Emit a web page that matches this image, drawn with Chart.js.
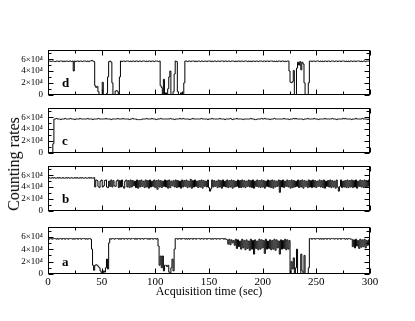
<!DOCTYPE html>
<html><head><meta charset="utf-8">
<script src="https://cdn.jsdelivr.net/npm/chart.js@4/dist/chart.umd.min.js"></script>
<style>
html,body{margin:0;padding:0;background:#fff;}
#wrap{position:relative;width:415px;height:321px;overflow:hidden;background:#fff;}
canvas{position:absolute;left:0;}
#ytitle{position:absolute;left:14px;top:164px;font-family:"Liberation Serif","DejaVu Serif",serif;font-size:16px;color:#000;white-space:nowrap;transform:translate(-50%,-50%) rotate(-90deg);}
</style></head><body>
<div id="wrap">
<canvas id="cd" style="top:40px" width="415" height="65"></canvas>
<canvas id="cc" style="top:98px" width="415" height="65"></canvas>
<canvas id="cb" style="top:156px" width="415" height="65"></canvas>
<canvas id="ca" style="top:217px" width="415" height="87"></canvas>
<div id="ytitle">Counting rates</div>
</div>
<script>
// ---- axis ticks / labels ----
const xMajorTicks = [0, 50, 100, 150, 200, 250, 300];
const xMinorTicks = [25, 75, 125, 175, 225, 275];
const yMajorTicks = [0, 20, 40, 60];          // thousands of counts
const yMinorTicks = [10, 30, 50, 70];
const yTickLabels = ['0', '2×10⁴', '4×10⁴', '6×10⁴'];
const xTitle = 'Acquisition time (sec)';
const panelLetters = ['d', 'c', 'b', 'a'];

// ---- series (counting rate, thousands of counts, one sample per second, t = 0..300) ----
const seriesD = [
56,57,57,56,57,57,56,56,57,57,56,57,57,57,56,57,56,57,57,56,57,57,56,57,
40,
57,56,57,57,56,57,57,56,57,57,57,56,57,56,57,57,58,57,56,
15,12,14,5,0,0,0,21,0,0,0,2,30,56,57,55,20,0,0,6,7,5,0,30,
57,56,57,57,56,57,57,57,56,57,56,57,57,56,57,57,56,57,57,56,57,57,57,56,57,56,57,57,56,57,57,56,57,57,57,56,57,
15,12,0,26,0,3,0,10,30,40,0,0,5,35,57,56,5,0,0,3,0,0,20,57,
57,56,57,57,56,57,57,57,56,57,56,57,
57,56,57,57,56,57,57,56,57,57,57,56,
57,56,57,57,56,57,57,56,57,57,57,56,
57,57,56,57,57,56,57,57,57,56,57,56,
57,57,56,57,57,56,57,57,57,56,57,56,
57,56,57,57,56,57,57,56,57,57,57,56,
57,57,56,57,57,56,57,57,57,56,57,56,
57,56,57,57,56,57,57,56,57,56,57,57,
40,21,20,22,41,0,0,45,55,50,56,42,55,52,20,0,0,0,20,
57,57,56,57,57,56,57,57,57,56,57,56,
57,56,57,57,56,57,57,56,57,57,57,56,
57,57,56,57,57,56,57,57,57,56,57,56,
57,56,57,57,56,57,57,56,57,57,57,56,
57,56,57,57,56,57,57,57,56
];

const seriesC = [
0,0,0,0,0,15,
57,57,58,57,57,57,56,57,57,57,58,57,57,57,57,
58,57,57,57,56,57,57,57,57,58,57,57,57,57,57,
57,58,57,57,57,57,56,57,57,57,57,58,57,57,57,
57,57,57,58,57,57,57,57,56,57,57,57,57,57,58,
57,57,57,57,58,57,57,57,57,57,56,57,57,58,57,
57,57,56,56,56,56,56,57,57,57,57,58,57,57,57,
57,58,57,57,57,56,57,57,57,58,57,57,57,57,57,
57,57,57,58,57,57,57,56,57,57,57,57,58,57,57,
58,57,57,57,57,57,56,57,57,58,57,57,57,57,57,
57,57,58,57,57,57,57,57,56,57,57,57,58,57,57,
57,57,57,57,58,57,57,57,57,56,57,57,57,57,58,
57,56,57,57,57,58,57,57,57,57,57,56,57,57,57,
57,57,57,58,57,57,57,56,56,57,57,57,57,58,57,
57,58,57,57,57,57,56,57,57,57,58,57,57,57,57,
57,57,57,57,58,57,57,57,57,56,57,57,57,58,57,
58,57,57,57,57,57,57,56,57,57,57,58,57,57,57,
57,57,58,57,57,57,56,57,57,57,57,57,58,57,57,
57,57,57,57,58,57,57,57,56,57,57,57,57,57,58,
57,58,57,57,57,57,57,56,57,57,57,58,57,57,57,
57,57,58,57,57,57,57,56,57,57
];

const seriesB = [
55,56,55,55,56,55,56,55,55,56,55,56,55,55,56,55,55,56,55,56,55,55,
56,55,55,56,55,56,55,55,56,55,56,55,55,56,55,55,56,55,56,55,55,56,
40,52,51,41,39,50,52,40,42,51,52,40,39,50,41,52,
40,51,42,41,50,52,39,51,40,52,41,38,50,52,40,51,
39,52,40,51,42,50,39,52,38,51,40,52,41,50,39,52,
40,51,38,52,40,50,41,52,39,51,36,52,40,51,39,50,
41,52,40,51,38,52,39,50,42,51,40,52,39,51,40,50,
38,52,40,51,41,52,39,50,40,53,38,51,40,52,41,50,
39,51,40,52,38,51,41,50,40,52,39,33,37,52,40,51,
41,50,39,52,40,51,38,52,41,50,40,52,39,51,40,52,
38,51,40,50,41,52,39,51,39,52,40,51,39,50,41,52,
40,51,39,52,38,50,41,52,40,51,39,52,40,51,38,50,
41,52,40,51,39,52,38,51,40,50,41,52,31,51,40,52,
39,50,41,52,40,51,38,52,39,51,40,50,41,52,39,51,
40,52,38,51,41,50,39,52,40,51,39,52,40,51,39,50,
41,52,40,51,39,52,38,50,41,51,40,52,39,51,40,50,
38,52,40,33,41,52,39,50,40,51,39,52,39,51,40,52,
39,51,40,52,38,50,41,52,40,51,39,52,40,51,41,52,
50
];

const seriesA = [
57,56,57,57,56,57,57,57,56,57,56,57,57,56,57,57,56,57,57,56,
57,57,57,56,57,56,57,57,56,57,57,56,57,57,57,56,57,56,57,57,56,
40,14,6,14,15,14,12,10,5,2,0,5,3,10,24,8,50,
57,56,57,57,56,57,57,57,56,57,56,57,57,56,57,
57,56,57,57,56,57,57,57,56,57,56,57,57,56,57,
57,56,57,57,57,56,57,56,57,57,56,57,57,56,57,
45,14,29,10,29,5,14,14,12,14,3,0,10,24,5,40,
57,57,56,57,57,56,57,57,57,56,57,56,57,56,57,57,
56,57,57,56,57,57,57,56,57,57,56,57,57,56,57,57,
57,56,57,56,57,57,56,57,57,56,57,57,57,56,57,56,
55,48,56,47,55,50,54,46,56,41,55,44,53,40,56,42,
54,39,55,41,53,38,56,40,54,32,55,41,53,39,56,40,
55,42,54,33,56,40,53,41,55,39,54,40,56,38,55,42,
53,32,55,40,54,41,56,39,55,40,54,
0,20,8,26,0,10,40,0,0,0,32,5,0,30,0,0,0,10,
57,57,56,57,57,56,57,57,57,56,57,56,57,
56,57,57,56,57,57,56,57,57,57,56,57,57,
56,57,57,56,57,57,57,56,57,56,57,57,56,
56,44,55,42,56,45,54,41,56,43,55,44,56,42,54,46,55,47
];

const sampleTimes = seriesA.map((_, i) => i); // one sample per second

const FONT = '"Liberation Serif", "DejaVu Serif", serif';

const framePlugin = {
  id: 'frame',
  afterDatasetsDraw(chart, args, opts) {
    const {ctx, chartArea} = chart;
    const xs = chart.scales.x, ys = chart.scales.y;
    const L = Math.round(chartArea.left) + 0.5, R = Math.round(chartArea.right) - 0.5;
    const T = Math.round(chartArea.top) + 0.5, B = Math.round(chartArea.bottom) - 0.5;
    ctx.save();
    ctx.strokeStyle = '#000';
    ctx.lineWidth = 1;
    ctx.strokeRect(L, T, R - L, B - T);
    ctx.beginPath();
    const xt = (v, len) => {
      const p = Math.round(xs.getPixelForValue(v)) + 0.5;
      ctx.moveTo(p, B); ctx.lineTo(p, B - len);
      ctx.moveTo(p, T); ctx.lineTo(p, T + len);
    };
    const yt = (v, len) => {
      const p = Math.round(ys.getPixelForValue(v)) + 0.5;
      ctx.moveTo(L, p); ctx.lineTo(L + len, p);
      ctx.moveTo(R, p); ctx.lineTo(R - len, p);
    };
    xMajorTicks.forEach(v => xt(v, 5));
    xMinorTicks.forEach(v => xt(v, 3));
    yMajorTicks.forEach(v => yt(v, 5));
    yMinorTicks.forEach(v => yt(v, 3));
    ctx.stroke();
    ctx.fillStyle = '#000';
    ctx.font = 'bold 13px ' + FONT;
    ctx.textBaseline = 'alphabetic';
    ctx.textAlign = 'left';
    ctx.fillText(opts.letter, chartArea.left + 14, chartArea.bottom - 8);
    ctx.restore();
  }
};

function makePanel(id, series, letter, showX) {
  const pts = series.map((v, i) => ({x: sampleTimes[i], y: v}));
  const xScale = {
    type: 'linear', min: 0, max: 300, display: showX,
    grid: {display: false, drawTicks: false}, border: {display: false},
    afterBuildTicks: s => { s.ticks = xMajorTicks.map(v => ({value: v})); },
    ticks: {color: '#000', padding: 2, autoSkip: false, maxRotation: 0, font: {family: FONT, size: 11}},
    title: {display: showX, text: xTitle, color: '#000', padding: {top: 0, bottom: 5}, font: {family: FONT, size: 12}}
  };
  if (showX) xScale.afterFit = s => { s.height = 30; };
  return new Chart(document.getElementById(id), {
    type: 'line',
    data: {datasets: [{data: pts, borderColor: '#000', borderWidth: 1, pointRadius: 0, stepped: 'middle', fill: false}]},
    options: {
      responsive: false, animation: false, devicePixelRatio: 1,
      layout: {padding: {left: 0, right: 45, top: 8, bottom: showX ? 0 : 8}},
      plugins: {legend: {display: false}, tooltip: {enabled: false}, frame: {letter}},
      scales: {
        x: xScale,
        y: {
          type: 'linear', min: 0, max: 75,
          grid: {display: false, drawTicks: false}, border: {display: false},
          afterBuildTicks: s => { s.ticks = yMajorTicks.map(v => ({value: v})); },
          afterFit: s => { s.width = 48; },
          ticks: {color: '#000', padding: 5, font: {family: FONT, size: 9},
            callback: v => yTickLabels[yMajorTicks.indexOf(v)]}
        }
      }
    },
    plugins: [framePlugin]
  });
}

makePanel('cd', seriesD, panelLetters[0], false);
makePanel('cc', seriesC, panelLetters[1], false);
makePanel('cb', seriesB, panelLetters[2], false);
makePanel('ca', seriesA, panelLetters[3], true);
</script>
</body></html>
